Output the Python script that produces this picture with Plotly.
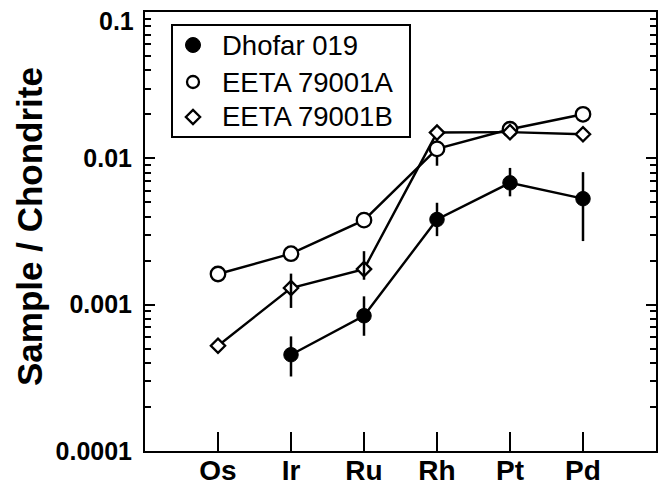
import plotly.graph_objects as go

# Platinum-group element abundances normalised to chondrite
elements = ["Os", "Ir", "Ru", "Rh", "Pt", "Pd"]

dhofar_x = ["Ir", "Ru", "Rh", "Pt", "Pd"]
dhofar_y = [4.55e-4, 8.4e-4, 3.82e-3, 6.8e-3, 5.3e-3]
dhofar_hi = [6.07e-4, 1.14e-3, 4.97e-3, 8.6e-3, 8.05e-3]
dhofar_lo = [3.23e-4, 6.13e-4, 2.94e-3, 5.5e-3, 2.72e-3]

eeta_a_x = ["Os", "Ir", "Ru", "Rh", "Pt", "Pd"]
eeta_a_y = [1.62e-3, 2.23e-3, 3.78e-3, 0.0116, 0.0158, 0.0200]
eeta_a_hi = [1.62e-3, 2.23e-3, 3.78e-3, 0.0150, 0.0158, 0.0200]
eeta_a_lo = [1.62e-3, 2.23e-3, 3.78e-3, 0.0089, 0.0158, 0.0200]

eeta_b_x = ["Os", "Ir", "Ru", "Rh", "Pt", "Pd"]
eeta_b_y = [5.24e-4, 1.30e-3, 1.75e-3, 0.0150, 0.0151, 0.0146]
eeta_b_hi = [5.24e-4, 1.63e-3, 2.32e-3, 0.0150, 0.0151, 0.0146]
eeta_b_lo = [5.24e-4, 9.5e-4, 1.48e-3, 0.0150, 0.0151, 0.0146]

y_tickvals = [1e-4, 1e-3, 1e-2, 1e-1]
y_ticktext = ["0.0001", "0.001", "0.01", ""]
top_label = "0.1"

legend_names = ["Dhofar 019", "EETA 79001A", "EETA 79001B"]

FONT = "Liberation Sans, Arial, sans-serif"

# plot-area geometry in pixels
W, H = 671, 485
L, R, T, B = 145, 15, 12, 34
PW, PH = W - L - R, H - T - B


def px(x):
    return (x - L) / PW


def py(y):
    return 1 - (y - T) / PH


def err(y, hi, lo):
    plus = [h - v for h, v in zip(hi, y)]
    minus = [v - l for v, l in zip(y, lo)]
    return dict(type="data", symmetric=False, array=plus, arrayminus=minus,
                color="black", thickness=2.5, width=0)


styles = [
    dict(symbol="circle", size=14.5, color="black", line=dict(color="black", width=1)),
    dict(symbol="circle", size=14.5, color="white", line=dict(color="black", width=2.3)),
    dict(symbol="diamond", size=11, color="white", line=dict(color="black", width=2.3)),
]

fig = go.Figure()

# connecting lines, drawn beneath the markers
for xs, ys in [(dhofar_x, dhofar_y), (eeta_a_x, eeta_a_y), (eeta_b_x, eeta_b_y)]:
    fig.add_trace(go.Scatter(x=xs, y=ys, mode="lines", showlegend=False,
                             line=dict(color="black", width=2.4),
                             hoverinfo="skip"))

fig.add_trace(go.Scatter(
    x=dhofar_x, y=dhofar_y, mode="markers", name=legend_names[0],
    showlegend=False, marker=styles[0],
    error_y=err(dhofar_y, dhofar_hi, dhofar_lo)))

fig.add_trace(go.Scatter(
    x=eeta_a_x, y=eeta_a_y, mode="markers", name=legend_names[1],
    showlegend=False, marker=styles[1],
    error_y=err(eeta_a_y, eeta_a_hi, eeta_a_lo)))

fig.add_trace(go.Scatter(
    x=eeta_b_x, y=eeta_b_y, mode="markers", name=legend_names[2],
    showlegend=False, marker=styles[2]))

# error bars of the diamonds sit on top of the symbols
fig.add_trace(go.Scatter(
    x=eeta_b_x, y=eeta_b_y, mode="markers", showlegend=False,
    marker=dict(size=1, opacity=0),
    error_y=err(eeta_b_y, eeta_b_hi, eeta_b_lo), hoverinfo="skip"))

# boxed key in the upper left, laid out on a unit overlay axis
key_rows = [45, 82, 117]
key_sizes = [15, 12, 11]
for name, st, row, sz in zip(legend_names, styles, key_rows, key_sizes):
    m = dict(st)
    m["size"] = sz
    fig.add_trace(go.Scatter(x=[px(193)], y=[py(row)], xaxis="x2", yaxis="y2",
                             mode="markers", marker=m, showlegend=False,
                             hoverinfo="skip"))

annotations = [
    dict(text=name, xref="paper", yref="paper", x=px(220), y=py(row),
         xanchor="left", yanchor="middle", showarrow=False,
         font=dict(family=FONT, size=27.5, color="black"))
    for name, row in zip(legend_names, key_rows)
]
annotations.append(dict(
    text="Sample / Chondrite", xref="paper", yref="paper",
    x=px(29), y=py(227), xanchor="center", yanchor="middle",
    textangle=-90, showarrow=False,
    font=dict(family=FONT, size=35, color="black", weight="bold")))
annotations.append(dict(
    text=top_label, xref="paper", yref="paper", x=px(136), y=py(21),
    xanchor="right", yanchor="middle", showarrow=False,
    font=dict(family=FONT, size=25, color="black", weight="bold")))

fig.update_layout(
    width=W, height=H,
    margin=dict(l=L, r=R, t=T, b=B),
    paper_bgcolor="white", plot_bgcolor="white",
    font=dict(family=FONT, color="black"),
    showlegend=False,
    annotations=annotations,
    shapes=[dict(type="rect", xref="paper", yref="paper", layer="below",
                 x0=px(172), x1=px(410), y0=py(137), y1=py(25),
                 line=dict(color="black", width=2), fillcolor="white")],
    xaxis=dict(
        type="category", categoryorder="array", categoryarray=elements,
        range=[-1, 6], showgrid=False, zeroline=False, automargin=False,
        showline=True, linecolor="black", linewidth=2, mirror=True,
        ticks="inside", ticklen=19, tickwidth=2, tickcolor="black",
        ticklabelstandoff=-7,
        tickfont=dict(family=FONT, size=28, color="black", weight="bold"),
    ),
    yaxis=dict(
        type="log", range=[-4, -1], showgrid=False, zeroline=False,
        automargin=False,
        showline=True, linecolor="black", linewidth=2, mirror="ticks",
        tickmode="array", tickvals=y_tickvals, ticktext=y_ticktext,
        ticks="inside", ticklen=10, tickwidth=2, tickcolor="black",
        ticklabelstandoff=6,
        tickfont=dict(family=FONT, size=25, color="black", weight="bold"),
        minor=dict(dtick="D1", ticks="inside", ticklen=6, tickwidth=1.5,
                   tickcolor="black", showgrid=False),
    ),
    xaxis2=dict(overlaying="x", range=[0, 1], visible=False, fixedrange=True),
    yaxis2=dict(overlaying="y", range=[0, 1], visible=False, fixedrange=True),
)

fig.write_html("out.html")
